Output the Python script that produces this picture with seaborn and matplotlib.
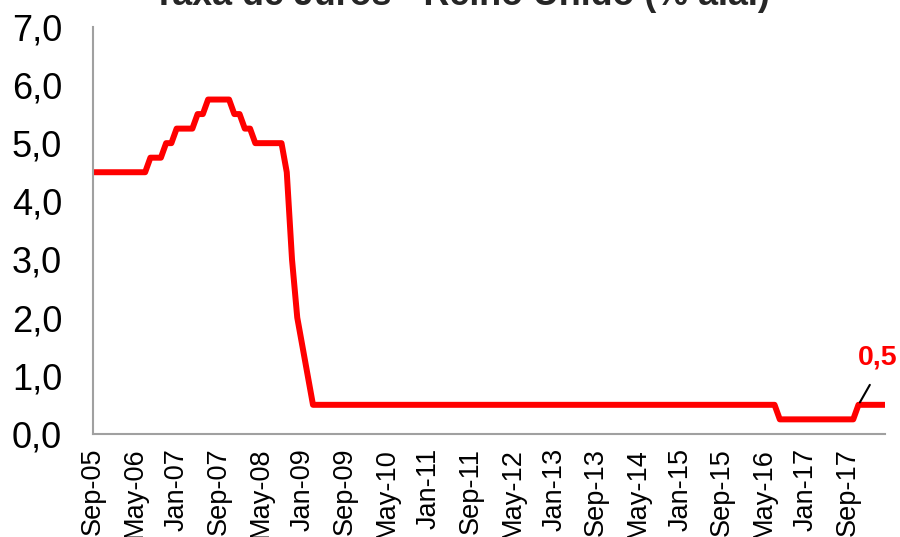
import matplotlib
matplotlib.use("Agg")
import matplotlib.pyplot as plt
import seaborn as sns
import pandas as pd

# Monthly Bank Rate, Sep-05 .. Apr-18 (% a.a.)
rate_2005 = [4.5, 4.5, 4.5, 4.5]  # Sep-Dec
rate_2006 = [4.5, 4.5, 4.5, 4.5, 4.5, 4.5, 4.5, 4.75, 4.75, 4.75, 5.0, 5.0]
rate_2007 = [5.25, 5.25, 5.25, 5.25, 5.5, 5.5, 5.75, 5.75, 5.75, 5.75, 5.75, 5.5]
rate_2008 = [5.5, 5.25, 5.25, 5.0, 5.0, 5.0, 5.0, 5.0, 5.0, 4.5, 3.0, 2.0]
rate_2009 = [1.5, 1.0, 0.5, 0.5, 0.5, 0.5, 0.5, 0.5, 0.5, 0.5, 0.5, 0.5]
rate_2010 = [0.5] * 12
rate_2011 = [0.5] * 12
rate_2012 = [0.5] * 12
rate_2013 = [0.5] * 12
rate_2014 = [0.5] * 12
rate_2015 = [0.5] * 12
rate_2016 = [0.5, 0.5, 0.5, 0.5, 0.5, 0.5, 0.5, 0.25, 0.25, 0.25, 0.25, 0.25]
rate_2017 = [0.25, 0.25, 0.25, 0.25, 0.25, 0.25, 0.25, 0.25, 0.25, 0.25, 0.5, 0.5]
rate_2018 = [0.5, 0.5, 0.5, 0.5]  # Jan-Apr

rates = (rate_2005 + rate_2006 + rate_2007 + rate_2008 + rate_2009 + rate_2010 +
         rate_2011 + rate_2012 + rate_2013 + rate_2014 + rate_2015 + rate_2016 +
         rate_2017 + rate_2018)

tick_labels = ["Sep-05", "May-06", "Jan-07", "Sep-07", "May-08", "Jan-09", "Sep-09",
               "May-10", "Jan-11", "Sep-11", "May-12", "Jan-13", "Sep-13", "May-14",
               "Jan-15", "Sep-15", "May-16", "Jan-17", "Sep-17"]
y_ticks = [0, 1, 2, 3, 4, 5, 6, 7]
last_label = "0,5"
title = "Taxa de Juros - Reino Unido (% a.a.)"

df = pd.DataFrame({"mes": range(len(rates)), "taxa": rates})

sns.set_theme(style="white")
plt.rcParams['font.family'] = ['Liberation Sans', 'DejaVu Sans']

fig = plt.figure(figsize=(9, 5.37), dpi=100)
ax = fig.add_axes([0.103, 0.192, 0.880, 0.758])

sns.lineplot(data=df, x="mes", y="taxa", ax=ax, color="#ff0000", linewidth=4.3,
             legend=False)

ax.set_xlim(0, len(rates) - 1)
ax.set_ylim(0, 7)
ax.set_xticks(range(0, 8 * len(tick_labels), 8))
ax.set_xticklabels(tick_labels, rotation=90, fontsize=19.5)
ax.set_yticks(y_ticks)
ax.set_yticklabels([f"{v:.1f}".replace(".", ",") for v in y_ticks], fontsize=26)
ax.tick_params(axis="x", length=0, pad=10, colors="black")
ax.tick_params(axis="y", length=0, pad=22, colors="black")
ax.set_xlabel("")
ax.set_ylabel("")

for s in ["top", "right"]:
    ax.spines[s].set_visible(False)
for s in ["left", "bottom"]:
    ax.spines[s].set_color("#a0a0a0")
    ax.spines[s].set_linewidth(1.5)

idx = len(rates) - 6
ax.annotate(last_label, xy=(idx, rates[idx]), xytext=(149.7, 1.31),
            ha="center", va="center", fontsize=20.5, fontweight="bold", color="#ff0000",
            annotation_clip=False,
            arrowprops=dict(arrowstyle="-", color="black", lw=1.5, shrinkA=9, shrinkB=2,
                            relpos=(0.5, 0.0)))

fig.text(0.513, 1 - 5 / 537, title, ha="center", va="baseline", fontsize=25.8,
         fontweight="bold")

fig.savefig("out.png", dpi=100)
